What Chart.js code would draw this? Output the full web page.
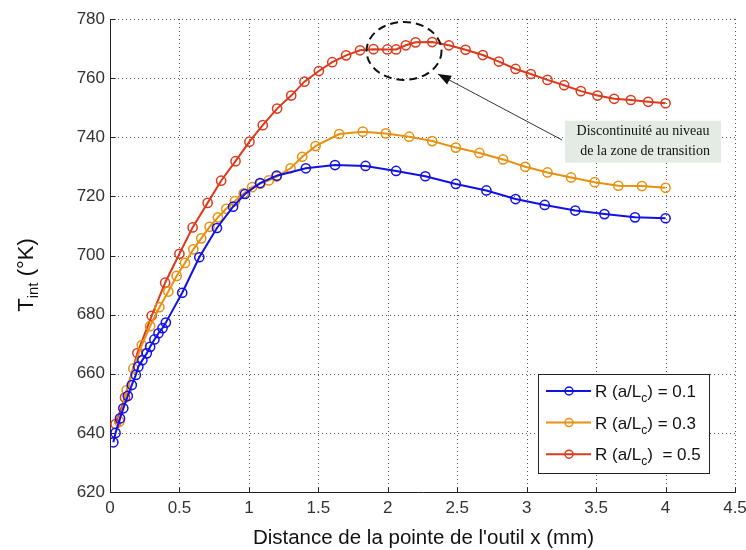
<!DOCTYPE html>
<html>
<head>
<meta charset="utf-8">
<script src="https://cdn.jsdelivr.net/npm/chart.js@4.4.1/dist/chart.umd.min.js"></script>
<style>
  html, body { margin: 0; padding: 0; background: #ffffff; }
  #wrap { width: 746px; height: 550px; }
</style>
</head>
<body>
<div id="wrap"><canvas id="c" width="746" height="550"></canvas></div>
<script>
// ---------- DATA ----------
const xTicks = [0, 0.5, 1, 1.5, 2, 2.5, 3, 3.5, 4, 4.5];
const yTicks = [620, 640, 660, 680, 700, 720, 740, 760, 780];

const seriesNames = ["0.1", "0.3", "0.5"];

const xBlue = [0.024, 0.04, 0.072, 0.096, 0.128, 0.157, 0.186, 0.204, 0.233, 0.265, 0.289, 0.32, 0.349, 0.378, 0.402,
  0.52, 0.643, 0.77, 0.886, 0.972, 1.08, 1.2, 1.41, 1.62, 1.84, 2.06, 2.27, 2.49, 2.71, 2.92, 3.13, 3.35, 3.56, 3.78, 4.0];
const yBlue = [636.8, 640.0, 644.9, 648.3, 652.5, 656.2, 659.6, 662.4, 664.6, 666.9, 669.1, 671.6, 673.7, 675.4, 677.3,
  687.4, 699.4, 709.3, 716.5, 720.8, 724.5, 727.0, 729.5, 730.6, 730.3, 728.6, 726.8, 724.2, 722.0, 719.1, 717.1, 715.2, 714.0, 712.9, 712.6];

const xOrange = [0.067, 0.12, 0.168, 0.229, 0.289, 0.356, 0.42, 0.48, 0.54, 0.60, 0.657, 0.717, 0.777, 0.837, 0.90, 0.962,
  1.023, 1.083, 1.143, 1.2, 1.30, 1.384, 1.48, 1.65, 1.82, 1.986, 2.154, 2.32, 2.49, 2.66, 2.83, 2.99, 3.15, 3.32, 3.49, 3.66, 3.83, 4.0];
const yOrange = [643.8, 654.5, 661.8, 669.7, 676.1, 682.5, 687.8, 693.1, 697.5, 702.1, 705.8, 709.7, 712.9, 715.8, 718.4, 721.0,
  723.1, 724.3, 725.4, 726.7, 729.5, 733.4, 737.0, 741.1, 741.9, 741.3, 740.2, 738.7, 736.5, 734.7, 732.5, 730.0, 728.1, 726.4, 724.8, 723.6, 723.5, 722.9];

const xRed = [0.04, 0.108, 0.197, 0.30, 0.397, 0.50, 0.595, 0.703, 0.80, 0.904, 1.004, 1.10, 1.203, 1.305, 1.40, 1.504, 1.60, 1.70,
  1.80, 1.897, 1.997, 2.06, 2.13, 2.20, 2.32, 2.44, 2.56, 2.684, 2.80, 2.92, 3.03, 3.15, 3.27, 3.39, 3.51, 3.63, 3.75, 3.875, 4.0];
const yRed = [643.0, 652.0, 667.0, 679.6, 690.8, 700.6, 709.5, 717.8, 725.3, 731.9, 738.5, 744.1, 749.7, 754.1, 758.8, 762.4, 765.4, 767.7,
  769.4, 769.8, 769.7, 769.7, 771.1, 772.1, 772.2, 771.1, 769.6, 767.8, 765.6, 763.1, 761.4, 759.4, 757.6, 755.6, 754.1, 753.0, 752.6, 752.0, 751.5];

const xTitle = "Distance de la pointe de l'outil x (mm)";
const yTitleMain = "T", yTitleSub = "int", yTitleRest = " (°K)";
const legendPre = "R (a/L", legendSub = "c";
const legendPost = [") = 0.1", ") = 0.3", ")  = 0.5"];
const calloutText = ["Discontinuité au niveau", "de la zone de transition"];

// ---------- STYLE / LAYOUT ----------
const colors = ["#1111e6", "#e8900f", "#dc3a1c"];
const FONT = "'Liberation Sans', Arial, sans-serif";
const annot = {
  ellipse: { cx: 2.117, cy: 769.2, rx: 0.27, ry: 9.8 },
  arrow: { x0: 3.254, y0: 739.1, x1: 2.361, y1: 761.4 },
  box: { x0: 3.276, x1: 4.40, y0: 745.6, y1: 731.4 }
};

function pts(xs, ys) { return xs.map((x, i) => ({ x: x, y: ys[i] })); }

const datasets = [pts(xBlue, yBlue), pts(xOrange, yOrange), pts(xRed, yRed)].map((d, i) => ({
  label: "R (a/Lc) = " + seriesNames[i],
  data: d,
  showLine: true,
  borderColor: colors[i],
  borderWidth: 2,
  tension: 0,
  pointRadius: 4.6,
  pointBorderWidth: 1.5,
  pointBorderColor: colors[i],
  pointBackgroundColor: "rgba(0,0,0,0)",
  pointStyle: "circle"
}));

const framePlugin = {
  id: "frame",
  beforeDatasetsDraw(chart) {
    const ctx = chart.ctx, a = chart.chartArea;
    const xs = chart.scales.x, ys = chart.scales.y;
    ctx.save();
    ctx.strokeStyle = "#555";
    ctx.lineWidth = 1;
    ctx.setLineDash([1, 3]);
    xTicks.forEach(v => {
      if (v === 0) return;
      const px = Math.round(xs.getPixelForValue(v)) + 0.5;
      ctx.beginPath(); ctx.moveTo(px, a.top); ctx.lineTo(px, a.bottom); ctx.stroke();
    });
    yTicks.forEach(v => {
      if (v === 620) return;
      const py = Math.round(ys.getPixelForValue(v)) + 0.5;
      ctx.beginPath(); ctx.moveTo(a.left, py); ctx.lineTo(a.right, py); ctx.stroke();
    });
    ctx.setLineDash([]);
    ctx.strokeStyle = "#222";
    const L = Math.round(a.left) + 0.5, B = Math.round(a.bottom) + 0.5;
    ctx.beginPath(); ctx.moveTo(L, a.top); ctx.lineTo(L, B); ctx.lineTo(a.right + 1, B); ctx.stroke();
    xTicks.forEach(v => {
      const px = Math.round(xs.getPixelForValue(v)) + 0.5;
      ctx.beginPath(); ctx.moveTo(px, B); ctx.lineTo(px, B - 5); ctx.stroke();
    });
    yTicks.forEach(v => {
      const py = Math.round(ys.getPixelForValue(v)) + 0.5;
      ctx.beginPath(); ctx.moveTo(L, py); ctx.lineTo(L + 5, py); ctx.stroke();
    });
    ctx.restore();
  },
  afterDraw(chart) {
    const ctx = chart.ctx, a = chart.chartArea;
    const xs = chart.scales.x, ys = chart.scales.y;
    ctx.save();
    ctx.fillStyle = "#111";
    ctx.font = "20.5px " + FONT;
    ctx.textAlign = "center";
    ctx.textBaseline = "middle";
    ctx.fillText(xTitle, (a.left + a.right) / 2 + 1, 538);

    ctx.save();
    ctx.translate(25, 275);
    ctx.rotate(-Math.PI / 2);
    ctx.textAlign = "left";
    ctx.textBaseline = "alphabetic";
    ctx.font = "22px " + FONT;
    const w1 = ctx.measureText(yTitleMain).width;
    ctx.font = "15px " + FONT;
    const w2 = ctx.measureText(yTitleSub).width;
    ctx.font = "22px " + FONT;
    const w3 = ctx.measureText(yTitleRest).width;
    let x0 = -(w1 + w2 + w3) / 2;
    ctx.fillText(yTitleMain, x0, 8);
    ctx.font = "15px " + FONT;
    ctx.fillText(yTitleSub, x0 + w1, 13);
    ctx.font = "22px " + FONT;
    ctx.fillText(yTitleRest, x0 + w1 + w2, 8);
    ctx.restore();

    const e = annot.ellipse;
    const ecx = xs.getPixelForValue(e.cx), ecy = ys.getPixelForValue(e.cy);
    const erx = xs.getPixelForValue(e.cx + e.rx) - ecx, ery = ecy - ys.getPixelForValue(e.cy + e.ry);
    ctx.strokeStyle = "#111";
    ctx.lineWidth = 2;
    ctx.setLineDash([8, 5]);
    ctx.beginPath(); ctx.ellipse(ecx, ecy, erx, ery, 0, 0, Math.PI * 2); ctx.stroke();
    ctx.setLineDash([]);

    const ar = annot.arrow;
    const ax0 = xs.getPixelForValue(ar.x0), ay0 = ys.getPixelForValue(ar.y0);
    const ax1 = xs.getPixelForValue(ar.x1), ay1 = ys.getPixelForValue(ar.y1);
    ctx.strokeStyle = "#333";
    ctx.lineWidth = 1;
    ctx.beginPath(); ctx.moveTo(ax0, ay0); ctx.lineTo(ax1, ay1); ctx.stroke();
    const ang = Math.atan2(ay1 - ay0, ax1 - ax0);
    const hl = 13, hw = 5;
    ctx.fillStyle = "#111";
    ctx.beginPath();
    ctx.moveTo(ax1, ay1);
    ctx.lineTo(ax1 - hl * Math.cos(ang) + hw * Math.sin(ang), ay1 - hl * Math.sin(ang) - hw * Math.cos(ang));
    ctx.lineTo(ax1 - hl * Math.cos(ang) - hw * Math.sin(ang), ay1 - hl * Math.sin(ang) + hw * Math.cos(ang));
    ctx.closePath(); ctx.fill();

    const b = annot.box;
    const bx0 = xs.getPixelForValue(b.x0), bx1 = xs.getPixelForValue(b.x1);
    const by0 = ys.getPixelForValue(b.y0), by1 = ys.getPixelForValue(b.y1);
    ctx.fillStyle = "#e4ebe4";
    ctx.fillRect(bx0, by0, bx1 - bx0, by1 - by0);
    ctx.fillStyle = "#111";
    ctx.font = "14px 'Liberation Serif', 'Times New Roman', serif";
    ctx.textAlign = "center";
    ctx.textBaseline = "middle";
    const bcx = (bx0 + bx1) / 2;
    ctx.fillText(calloutText[0], bcx, by0 + 11);
    ctx.fillText(calloutText[1], bcx + 2, by0 + 31);

    const lw = 171, lh = 99;
    const lx = a.right - 26 - lw, ly = a.bottom - 19 - lh;
    ctx.fillStyle = "#fff";
    ctx.fillRect(lx, ly, lw, lh);
    ctx.strokeStyle = "#222";
    ctx.lineWidth = 1;
    ctx.strokeRect(Math.round(lx) + 0.5, Math.round(ly) + 0.5, lw, lh);
    for (let i = 0; i < 3; i++) {
      const cy = ly + 17 + i * 31.6;
      ctx.strokeStyle = colors[i];
      ctx.lineWidth = 2;
      ctx.beginPath(); ctx.moveTo(lx + 8, cy); ctx.lineTo(lx + 53, cy); ctx.stroke();
      ctx.lineWidth = 1.5;
      ctx.beginPath(); ctx.arc(lx + 31, cy, 4, 0, Math.PI * 2); ctx.stroke();
      ctx.fillStyle = "#111";
      ctx.textAlign = "left";
      ctx.textBaseline = "alphabetic";
      ctx.font = "17px " + FONT;
      let tx = lx + 57;
      ctx.fillText(legendPre, tx, cy + 6);
      tx += ctx.measureText(legendPre).width;
      ctx.font = "12px " + FONT;
      ctx.fillText(legendSub, tx, cy + 11);
      tx += ctx.measureText(legendSub).width;
      ctx.font = "17px " + FONT;
      ctx.fillText(legendPost[i], tx, cy + 6);
    }
    ctx.restore();
  }
};

new Chart(document.getElementById("c"), {
  type: "scatter",
  data: { datasets: datasets },
  options: {
    responsive: false,
    animation: false,
    layout: { padding: { top: 19, right: 11, left: 0, bottom: 0 } },
    plugins: { legend: { display: false }, tooltip: { enabled: false } },
    scales: {
      x: {
        type: "linear", min: 0, max: 4.5,
        afterBuildTicks(s) { s.ticks = xTicks.map(v => ({ value: v })); },
        ticks: { color: "#333", font: { size: 17, family: FONT }, padding: 6, maxRotation: 0,
                 callback: v => String(v) },
        grid: { display: false, drawTicks: false }, border: { display: false },
        afterFit(s) { s.height = 58; s.paddingLeft = 0; s.paddingRight = 0; }
      },
      y: {
        type: "linear", min: 620, max: 780,
        afterBuildTicks(s) { s.ticks = yTicks.map(v => ({ value: v })); },
        ticks: { color: "#333", font: { size: 17, family: FONT }, padding: 5 },
        grid: { display: false, drawTicks: false }, border: { display: false },
        afterFit(s) { s.width = 110; s.paddingTop = 0; s.paddingBottom = 0; }
      }
    }
  },
  plugins: [framePlugin]
});
</script>
</body>
</html>
